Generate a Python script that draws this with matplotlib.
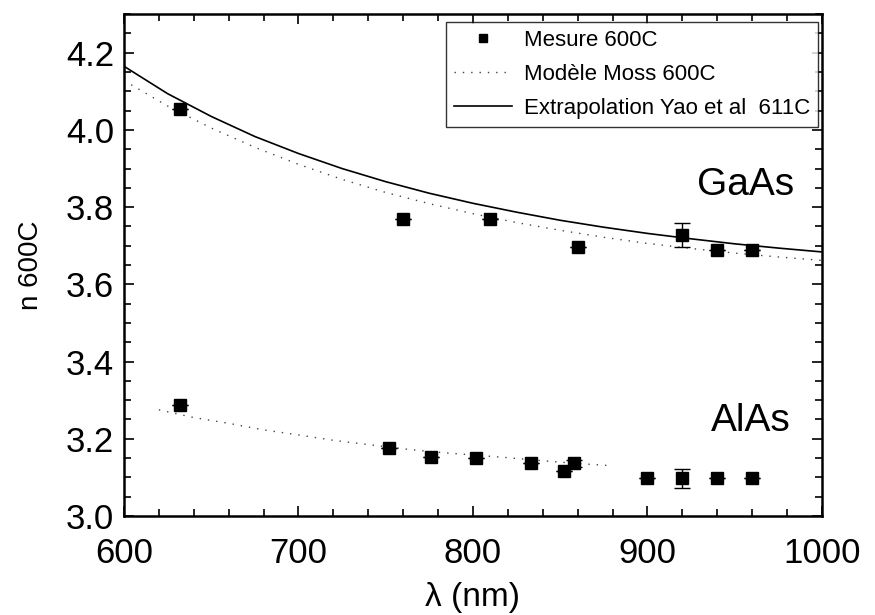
import matplotlib
matplotlib.use('Agg')
import matplotlib.pyplot as plt
from matplotlib.ticker import MultipleLocator

plt.rcParams['font.family'] = ['Liberation Sans', 'DejaVu Sans']

# Measured points (600C)
gaas_wl = [632, 760, 810, 860, 920, 940, 960]
gaas_n = [4.055, 3.77, 3.77, 3.697, 3.728, 3.688, 3.688]
gaas_err = [0, 0, 0, 0, 0.03, 0, 0]

alas_wl = [632, 752, 776, 802, 833, 852, 858, 900, 920, 940, 960]
alas_n = [3.288, 3.177, 3.153, 3.149, 3.137, 3.117, 3.136, 3.098, 3.098, 3.098, 3.098]
alas_err = [0, 0, 0, 0, 0, 0, 0.01, 0, 0.025, 0, 0]

# Moss model 600C (dotted)
moss_gaas_wl = [600, 625, 650, 675, 700, 725, 750, 775, 800, 825, 850, 875, 900, 925, 950, 975, 1000]
moss_gaas_n = [4.128, 4.062, 4.005, 3.955, 3.911, 3.872, 3.838, 3.809, 3.783, 3.760, 3.740,
               3.722, 3.706, 3.693, 3.681, 3.671, 3.662]
moss_alas_wl = [620, 640, 660, 680, 700, 720, 740, 760, 780, 800, 820, 840, 860, 880]
moss_alas_n = [3.275, 3.255, 3.240, 3.223, 3.210, 3.196, 3.185, 3.174, 3.165, 3.158, 3.151,
               3.143, 3.136, 3.130]

# Yao et al extrapolation 611C (solid)
yao_wl = [600, 625, 650, 675, 700, 725, 750, 775, 800, 825, 850, 875, 900, 925, 950, 975, 1000]
yao_n = [4.165, 4.094, 4.035, 3.983, 3.939, 3.900, 3.866, 3.836, 3.810, 3.787, 3.766,
         3.748, 3.732, 3.718, 3.705, 3.694, 3.684]

fig = plt.figure(figsize=(8.75, 6.15), dpi=100)
ax = fig.add_axes([0.1417, 0.161, 0.7977, 0.816])

dots = (0, (1, 5))
l_moss, = ax.plot(moss_gaas_wl, moss_gaas_n, color='#444444', lw=1.0, ls=dots)
ax.plot(moss_alas_wl, moss_alas_n, color='#444444', lw=1.0, ls=dots)
l_yao, = ax.plot(yao_wl, yao_n, color='black', lw=1.2)

ax.errorbar(gaas_wl, gaas_n, yerr=gaas_err, fmt='s', color='black', ms=8.5,
            capsize=6, elinewidth=1, capthick=1)
ax.errorbar(alas_wl, alas_n, yerr=alas_err, fmt='s', color='black', ms=8.5,
            capsize=6, elinewidth=1, capthick=1)
l_meas, = ax.plot([], [], 's', color='black', ms=6)

ax.text(956, 3.858, 'GaAs', fontsize=28, ha='center', va='center')
ax.text(959, 3.245, 'AlAs', fontsize=28, ha='center', va='center')

ax.set_xlim(600, 1000)
ax.set_ylim(3.0, 4.3)
ax.xaxis.set_major_locator(MultipleLocator(100))
ax.xaxis.set_minor_locator(MultipleLocator(20))
ax.yaxis.set_minor_locator(MultipleLocator(0.05))
ax.set_yticks([3.0, 3.2, 3.4, 3.6, 3.8, 4.0, 4.2])
ax.set_yticklabels(['3.0', '3.2', '3.4', '3.6', '3.8', '4.0', '4.2'])
ax.tick_params(which='both', direction='in', top=True, right=True, width=1.2, labelsize=25)
ax.tick_params(which='major', length=7)
ax.tick_params(which='minor', length=5)
ax.tick_params(axis='x', which='major', pad=15)
ax.tick_params(axis='y', which='major', pad=7)
for s in ax.spines.values():
    s.set_linewidth(1.8)

ax.set_xlabel('λ (nm)', fontsize=24, labelpad=9)
ax.set_ylabel('n 600C', fontsize=20, labelpad=16)

leg = ax.legend([l_meas, l_moss, l_yao],
                ['Mesure 600C', 'Modèle Moss 600C', 'Extrapolation Yao et al  611C'],
                loc='upper right', bbox_to_anchor=(0.994, 0.984), borderaxespad=0,
                fontsize=16, frameon=True, fancybox=False, edgecolor='black',
                handlelength=2.6, handletextpad=0.55, labelspacing=0.58, borderpad=0.35)
leg.get_frame().set_linewidth(1.0)

plt.savefig('out.png', dpi=100)
plt.close()
